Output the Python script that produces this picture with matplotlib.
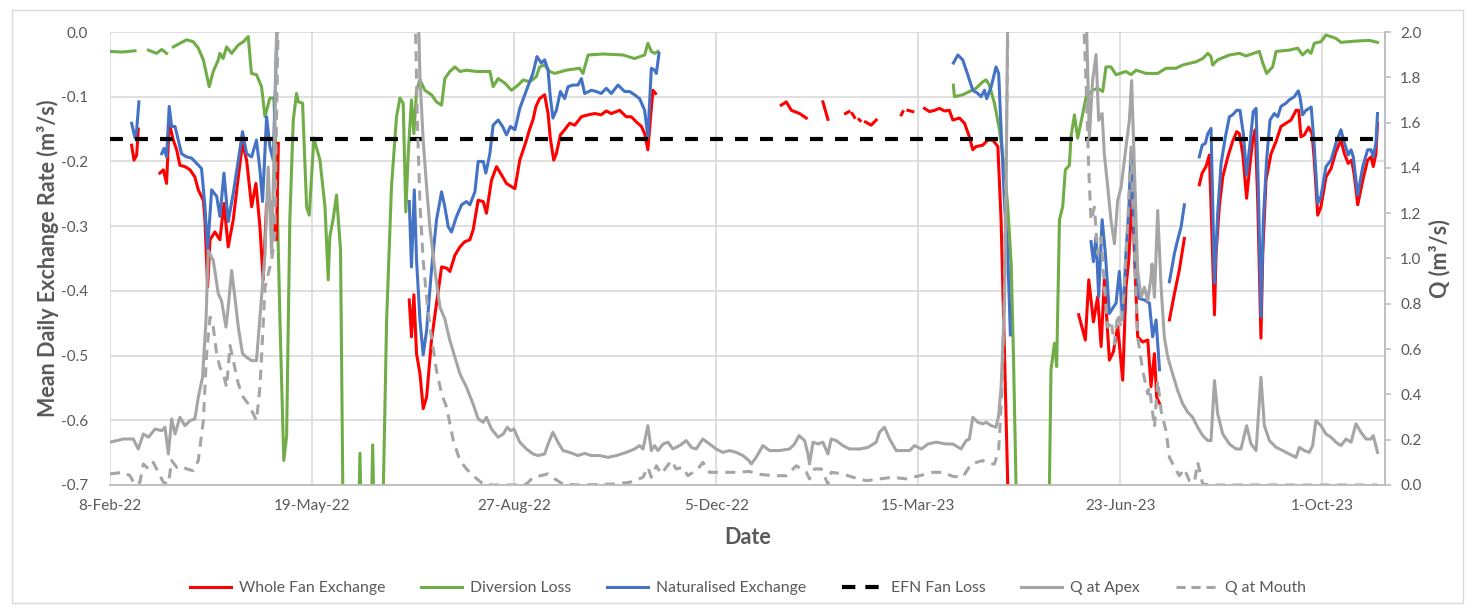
"""
Exchange rates across the fan with discharge at apex and mouth
"""
import numpy as np
import pandas as pd
import matplotlib
matplotlib.use('Agg')
import matplotlib.pyplot as plt
from matplotlib.lines import Line2D
from matplotlib.patches import Rectangle
from matplotlib.ticker import FuncFormatter, MultipleLocator

plt.rcParams['font.family'] = ['Lato', 'DejaVu Sans']

START = pd.Timestamp('2022-02-08')
N = np.nan

# day offsets from 8-Feb-22, NaN marks a gap in the record
red_day = [10.7, 11.9, 13.2, 14.0, N,
           24.7, 26.4, 28.0, 29.3, 31.3, 33.0, 34.6, 37.1, 39.6, 42.0, 43.7, 46.2, 47.0, 48.3, 49.5,
           51.9, 54.4, 56.4, 58.5, 61.0, 63.5, 65.6, 67.6, 70.1, 72.2, 74.2, 75.8, 77.5, 79.1, 80.8,
           82.4, 83.3, N,
           148.1, 149.2, 150.4, 151.7, 153.4, 155.0, 156.7, 159.1, 161.6, 164.1, 166.6, 168.2, 170.7,
           173.2, 175.6, 178.1, 179.7, 182.2, 184.7, 186.3, 188.8, 191.3, 193.8, 196.2, 198.7, 200.4,
           202.8, 206.1, 207.7, 209.4, 210.8, 212.6, 215.1, 216.8, 217.9, 219.6, 220.9, 222.9, 225.0,
           227.5, 230.0, 233.3, 236.6, 239.9, 243.1, 245.6, 248.1, 252.2, 255.5, 258.0, 260.5, 263.0,
           264.6, 266.2, 267.4, 268.7, 270.0, N,
           332.2, 334.7, 337.2, 341.3, 344.6, N, 352.8, 355.3, N, 364.0, 365.7, N, 367.3, 368.5, N,
           370.7, 371.3, N, 373.9, 376.7, 379.2, N, 391.6, 392.4, N, 394.9, 397.3, N,
           403.1, 405.6, 408.1, 410.5, 413.0, 415.4, 417.1, 420.4, 422.9, 425.3, 427.0, 428.6, 431.9,
           434.4, 436.9, 439.4, 441.0, 442.7, 444.3, 445.0, N,
           479.4, 482.7, 484.4, 486.7, 488.8, 490.5, 492.1, 494.6, 496.6, 498.7, 501.2, 502.8, 504.2,
           505.8, 507.0, 508.6, 511.1, 513.6, 515.2, 516.9, 518.0, 519.4, N,
           524.3, 526.8, 529.2, 531.7, N,
           539.1, 540.5, 542.4, 544.1, 544.9, 546.6, 547.4, 549.0, 550.7, 553.2, 555.6, 557.6, 558.9,
           560.6, 562.5, 563.9, 565.5, 566.8, 568.0, 569.6, 570.5, 572.1, 574.6, 577.1, 579.5, 582.0,
           584.5, 587.0, 588.3, 589.4, 591.1, 593.2, 594.9, 596.0, 597.7, 599.3, 601.8, 604.3, 606.7,
           609.2, 610.9, 612.8, 614.5, 615.8, 617.5, 620.0, 622.4, 624.1, 625.2, 626.5, 627.3]
red_val = [-0.175, -0.198, -0.19, -0.15, N,
           -0.218, -0.213, -0.234, -0.140, -0.167, -0.182, -0.206, -0.208, -0.213, -0.224, -0.244, -0.26, -0.29, -0.394, -0.321,
           -0.309, -0.321, -0.265, -0.332, -0.29, -0.224, -0.172, -0.198, -0.27, -0.234, -0.301, -0.383, -0.265, -0.26, -0.296,
           -0.321, -0.172, N,
           -0.414, -0.471, -0.406, -0.497, -0.528, -0.582, -0.564, -0.476, -0.419, -0.363, -0.365, -0.370, -0.345,
           -0.332, -0.324, -0.321, -0.306, -0.26, -0.262, -0.28, -0.229, -0.208, -0.221, -0.234, -0.239, -0.242,
           -0.198, -0.167, -0.150, -0.135, -0.115, -0.103, -0.097, -0.126, -0.164, -0.198, -0.188, -0.159, -0.151,
           -0.141, -0.144, -0.131, -0.128, -0.126, -0.128, -0.122, -0.126, -0.121, -0.131, -0.131, -0.139, -0.146,
           -0.157, -0.182, -0.136, -0.090, -0.095, N,
           -0.113, -0.108, -0.121, -0.126, -0.133, N, -0.108, -0.135, N, -0.126, -0.123, N, -0.126, -0.132, N,
           -0.135, -0.137, N, -0.139, -0.144, -0.136, N, -0.128, -0.123, N, -0.121, -0.123, N,
           -0.118, -0.123, -0.121, -0.118, -0.122, -0.121, -0.136, -0.133, -0.141, -0.162, -0.182, -0.177, -0.175,
           -0.167, -0.167, -0.177, -0.29, -0.497, -0.70, -0.80, N,
           -0.437, -0.476, -0.383, -0.448, -0.409, -0.486, -0.383, -0.507, -0.494, -0.455, -0.538, -0.394, -0.352,
           -0.252, -0.342, -0.471, -0.479, -0.476, -0.548, -0.497, -0.564, -0.574, N,
           -0.445, -0.404, -0.368, -0.319, N,
           -0.236, -0.218, -0.208, -0.190, -0.27, -0.437, -0.342, -0.27, -0.224, -0.193, -0.169, -0.154, -0.157,
           -0.188, -0.257, -0.213, -0.167, -0.151, -0.26, -0.473, -0.342, -0.229, -0.188, -0.169, -0.146, -0.141,
           -0.136, -0.121, -0.121, -0.162, -0.159, -0.147, -0.157, -0.198, -0.283, -0.27, -0.224, -0.211, -0.185,
           -0.167, -0.188, -0.203, -0.198, -0.221, -0.267, -0.229, -0.198, -0.193, -0.208, -0.188, -0.141]

green_day = [0.0, 6.0, 12.4, N, 19.0, 23.0, 25.6, 28.0, N,
             31.3, 34.6, 37.9, 41.2, 43.7, 46.2, 49.1, 51.1, 53.6, 54.4, 56.0, 57.7, 60.2, 63.5, 66.0,
             68.4, 70.0, 72.5, 75.0, 76.7, 79.1, 81.1, 82.4, 84.1, 86.0, 87.4, 89.0, 90.7, 92.3, 93.2,
             95.3, 97.3, 98.6, 100.9, 103.9, 106.4, 108.0, 108.8, 110.5, 112.1, 114.1, 115.5,
             122.7, 123.7, 124.7, 129.0, 130.0, 131.0, 135.0, 136.9, 139.3, 141.8, 143.5, 145.1, 146.4,
             147.6, 149.2, 150.4, 151.7, 153.4, 155.8, 159.1, 161.6, 164.1, 165.7, 168.2, 170.7, 173.2,
             176.4, 181.4, 188.0, 189.6, 192.1, 195.4, 198.7, 202.0, 204.5, 207.7, 211.0, 212.6, 215.1,
             217.6, 220.1, 225.8, 232.4, 234.1, 236.6, 244.0, 253.9, 259.6, 264.6, 266.2, 267.9, 269.5,
             271.2, N,
             417.4, 417.9, 422.0, 425.3, 428.6, 431.9, 433.6, 435.2, 437.7, 440.2, 442.7, 444.3, 446.0,
             447.1, 448.4, 449.5, 464.5, 465.7, 467.4, 468.5, 469.9, 471.5, 472.8, 474.8, 475.6, 477.3,
             478.9, 481.1, 483.1, 486.3, 488.8, 491.3, 492.9, 495.4, 497.9, 502.8, 505.3, 507.8, 512.7,
             518.5, 522.6, 527.6, 530.9, 537.5, 540.8, 543.3, 544.9, 545.7, 548.2, 554.0, 558.9, 562.2,
             568.8, 570.5, 572.4, 575.4, 577.1, 583.6, 587.8, 590.2, 592.7, 594.4, 596.0, 599.3, 601.8,
             606.7, 609.2, 616.6, 623.2, 627.3]
green_val = [-0.030, -0.031, -0.029, N, -0.028, -0.033, -0.027, -0.033, N,
             -0.023, -0.0175, -0.012, -0.015, -0.025, -0.043, -0.0845, -0.061, -0.043, -0.033, -0.041, -0.023, -0.033, -0.020, -0.015,
             -0.007, -0.064, -0.066, -0.0845, -0.131, -0.102, -0.102, -0.213, -0.445, -0.662, -0.625, -0.29, -0.136, -0.095, -0.108,
             -0.110, -0.27, -0.283, -0.164, -0.198, -0.27, -0.383, -0.316, -0.288, -0.252, -0.337, -0.80,
             -0.80, -0.651, -0.80, -0.80, -0.638, -0.80, -0.75, -0.445, -0.239, -0.131, -0.102, -0.110, -0.278,
             -0.188, -0.105, -0.157, -0.090, -0.074, -0.090, -0.097, -0.108, -0.113, -0.072, -0.061, -0.054, -0.061,
             -0.059, -0.061, -0.061, -0.0845, -0.072, -0.079, -0.090, -0.082, -0.074, -0.077, -0.069, -0.054, -0.051,
             -0.061, -0.064, -0.059, -0.056, -0.064, -0.0355, -0.034, -0.0355, -0.041, -0.0355, -0.0175, -0.030, -0.033,
             -0.030, N,
             -0.082, -0.100, -0.097, -0.092, -0.087, -0.077, -0.074, -0.082, -0.110, -0.151, -0.213, -0.27, -0.358,
             -0.497, -0.70, -0.80, -0.80, -0.522, -0.481, -0.517, -0.29, -0.27, -0.213, -0.206, -0.162, -0.128,
             -0.164, -0.131, -0.100, -0.090, -0.087, -0.092, -0.054, -0.054, -0.066, -0.061, -0.066, -0.059, -0.064,
             -0.064, -0.056, -0.056, -0.051, -0.046, -0.041, -0.033, -0.038, -0.051, -0.043, -0.0355, -0.033, -0.037,
             -0.030, -0.048, -0.064, -0.054, -0.030, -0.028, -0.025, -0.0355, -0.028, -0.033, -0.0175, -0.015, -0.0046,
             -0.0098, -0.016, -0.014, -0.013, -0.016]

blue_day = [10.7, 12.4, 13.2, 14.3, N,
            25.6, 26.7, 28.0, 29.3, 30.5, 32.2, 33.8, 35.4, 37.9, 40.4, 42.9, 45.3, 47.0, 48.3, 50.3,
            52.8, 54.4, 56.4, 58.5, 61.0, 63.5, 65.6, 67.6, 70.1, 72.5, 74.2, 75.5, 77.5, 79.1, 80.8,
            82.4, 83.2, N,
            148.1, 149.2, 150.6, 151.7, 153.4, 155.0, 156.7, 159.1, 161.6, 164.1, 165.7, 167.4, 169.0,
            171.5, 174.0, 176.4, 178.1, 180.6, 182.2, 184.7, 186.0, 188.0, 189.6, 192.1, 194.3, 196.2,
            198.2, 200.4, 202.8, 206.1, 207.7, 209.3, 211.3, 213.5, 215.1, 216.8, 217.9, 219.2, 220.9,
            222.9, 225.0, 226.7, 229.1, 231.6, 233.3, 234.9, 238.2, 240.7, 243.1, 245.6, 248.1, 251.4,
            254.7, 257.2, 259.6, 262.1, 264.6, 266.2, 267.9, 269.5, 270.4, 271.7, N,
            417.4, 419.6, 422.0, 424.5, 427.0, 429.5, 431.1, 432.8, 433.9, 436.1, 438.5, 439.8, 441.0,
            442.7, 444.3, 445.6, N,
            485.5, 486.7, 488.0, 489.3, 491.0, 492.6, 494.6, 496.2, 497.9, 499.5, 501.2, 502.8, 504.2,
            505.3, 506.1, 507.8, 509.4, 511.9, 514.4, 516.0, 517.7, 519.4, N,
            524.3, 526.8, 528.4, 530.1, 531.7, N,
            539.1, 540.5, 542.1, 543.3, 544.9, 546.6, 548.2, 549.9, 552.0, 554.0, 555.6, 557.6, 559.2,
            560.9, 562.5, 564.2, 565.8, 567.2, 568.3, 569.6, 570.8, 572.4, 574.1, 576.2, 577.9, 579.5,
            582.0, 583.6, 586.1, 588.1, 588.9, 590.2, 591.9, 594.5, 596.0, 597.7, 599.3, 601.8, 604.3,
            606.7, 609.2, 610.5, 612.8, 614.2, 615.3, 617.5, 620.0, 622.4, 624.1, 625.2, 626.5, 627.3]
blue_val = [-0.141, -0.164, -0.151, -0.108, N,
            -0.188, -0.180, -0.193, -0.115, -0.146, -0.146, -0.167, -0.188, -0.193, -0.195, -0.203, -0.211, -0.27, -0.337, -0.244,
            -0.254, -0.285, -0.218, -0.293, -0.249, -0.198, -0.154, -0.188, -0.193, -0.167, -0.213, -0.262, -0.131, -0.177, -0.198,
            -0.02, 0.05, N,
            -0.262, -0.363, -0.244, -0.352, -0.445, -0.499, -0.461, -0.368, -0.29, -0.247, -0.27, -0.301, -0.309,
            -0.285, -0.267, -0.262, -0.267, -0.247, -0.200, -0.200, -0.218, -0.188, -0.144, -0.136, -0.146, -0.159,
            -0.146, -0.151, -0.118, -0.090, -0.077, -0.064, -0.038, -0.048, -0.043, -0.059, -0.100, -0.133, -0.121,
            -0.092, -0.103, -0.0845, -0.082, -0.082, -0.072, -0.095, -0.090, -0.092, -0.095, -0.087, -0.095, -0.082,
            -0.092, -0.092, -0.097, -0.103, -0.121, -0.162, -0.056, -0.059, -0.064, -0.033, N,
            -0.048, -0.0355, -0.043, -0.066, -0.090, -0.095, -0.100, -0.090, -0.103, -0.0845, -0.054, -0.064, -0.151,
            -0.265, -0.342, -0.468, N,
            -0.324, -0.355, -0.316, -0.409, -0.29, -0.342, -0.435, -0.427, -0.419, -0.370, -0.445, -0.342, -0.275,
            -0.185, -0.249, -0.368, -0.412, -0.414, -0.419, -0.471, -0.445, -0.522, N,
            -0.386, -0.342, -0.321, -0.301, -0.267, N,
            -0.193, -0.175, -0.172, -0.157, -0.149, -0.388, -0.280, -0.203, -0.162, -0.131, -0.128, -0.121, -0.121,
            -0.157, -0.221, -0.172, -0.123, -0.118, -0.239, -0.440, -0.29, -0.198, -0.136, -0.126, -0.131, -0.115,
            -0.110, -0.105, -0.100, -0.091, -0.100, -0.128, -0.121, -0.116, -0.177, -0.265, -0.254, -0.208, -0.198,
            -0.172, -0.151, -0.167, -0.190, -0.182, -0.193, -0.252, -0.208, -0.182, -0.182, -0.193, -0.172, -0.126]

efn_day = [0.0, 628.0]
efn_val = [-0.165, -0.165]

apex_day = [0.0, 6.6, 11.5, 14.0, 16.5, 19.0, 22.3, 25.6, 27.2, 28.9, 30.5, 32.2, 34.6, 37.1, 39.6,
            42.0, 43.7, 45.8, 47.5, 48.6, 51.1, 53.6, 55.2, 57.4, 58.5, 60.2, 61.8, 63.5, 65.6, 67.6,
            70.1, 72.5, 75.0, 76.7, 78.3, 80.0, 81.6, 82.9, N,
            152.3, 153.4, 155.0, 156.7, 158.3, 160.8, 163.3, 165.7, 168.2, 170.7, 173.2, 176.4, 179.7,
            182.2, 184.7, 186.3, 188.8, 192.1, 194.6, 196.6, 198.2, 199.9, 202.8, 206.1, 209.4, 211.8,
            215.1, 216.8, 219.2, 221.7, 224.2, 227.5, 231.6, 234.9, 238.2, 242.3, 246.5, 250.6, 255.5,
            259.6, 262.1, 263.8, 266.2, 267.9, 269.5, 271.2, 273.7, 276.1, 278.6, 281.9, 285.2, 287.7,
            290.1, 293.4, 296.7, 300.0, 303.3, 306.6, 309.9, 313.2, 316.0, 317.4, 319.8, 323.1, 326.4,
            331.4, 336.3, 338.8, 341.0, 343.8, 345.4, 346.2, 347.9, 350.4, 352.8, 355.3, 356.9, 359.4,
            362.7, 366.0, 371.0, 375.1, 379.2, 380.8, 383.3, 385.8, 389.1, 392.4, 395.7, 398.2, 401.5,
            404.8, 408.9, 413.8, 417.1, 421.2, 423.7, 425.3, 427.0, 429.5, 431.9, 433.6, 436.1, 438.5,
            439.8, 441.0, 442.7, 443.5, 444.4, N,
            482.8, 484.7, 486.3, 488.0, 489.3, 491.0, 492.1, 493.8, 495.4, 497.1, 498.7, 500.4, 502.0,
            503.2, 504.5, 505.6, 507.0, 508.6, 510.3, 511.9, 513.6, 515.2, 515.7, 516.9, 518.5, 520.2,
            521.8, 523.5, 525.9, 528.4, 530.9, 533.4, 535.8, 538.3, 540.8, 543.3, 544.9, 546.6, 548.2,
            550.7, 554.0, 557.3, 559.7, 562.5, 564.7, 567.2, 569.6, 571.3, 573.8, 577.1, 580.4, 583.6,
            587.0, 588.6, 591.1, 593.5, 595.2, 596.8, 599.3, 601.8, 604.3, 606.7, 609.2, 611.7, 614.2,
            616.6, 619.1, 621.6, 624.1, 625.2, 627.3]
apex_val = [0.189, 0.203, 0.203, 0.159, 0.225, 0.211, 0.247, 0.240, 0.255, 0.137, 0.292, 0.225, 0.299, 0.262, 0.284,
            0.292, 0.387, 0.476, 0.726, 1.035, 0.991, 0.844, 0.814, 0.697, 0.785, 0.947, 0.829, 0.697, 0.579, 0.564,
            0.549, 0.549, 0.829, 1.021, 1.404, 1.021, 1.61, 2.2, N,
            2.2, 1.80, 1.52, 1.315, 1.138, 0.947, 0.785, 0.733, 0.638, 0.564, 0.490, 0.432, 0.358,
            0.292, 0.277, 0.299, 0.247, 0.211, 0.225, 0.255, 0.240, 0.247, 0.189, 0.159, 0.137, 0.130,
            0.137, 0.181, 0.233, 0.189, 0.152, 0.144, 0.130, 0.140, 0.130, 0.130, 0.122, 0.130, 0.144,
            0.159, 0.174, 0.159, 0.262, 0.152, 0.174, 0.152, 0.181, 0.189, 0.159, 0.174, 0.196, 0.166,
            0.159, 0.203, 0.181, 0.159, 0.144, 0.152, 0.144, 0.130, 0.110, 0.093, 0.122, 0.174, 0.152,
            0.152, 0.159, 0.181, 0.218, 0.196, 0.137, 0.093, 0.189, 0.181, 0.189, 0.137, 0.203, 0.196,
            0.174, 0.159, 0.159, 0.166, 0.189, 0.233, 0.255, 0.203, 0.152, 0.152, 0.152, 0.174, 0.159,
            0.181, 0.189, 0.181, 0.181, 0.159, 0.196, 0.203, 0.299, 0.277, 0.270, 0.277, 0.262, 0.255,
            0.306, 0.432, 0.800, 1.315, 2.2, N,
            2.2, 1.536, 1.786, 1.90, 1.61, 1.64, 1.46, 1.315, 1.168, 1.065, 1.256, 1.315, 1.433,
            1.521, 1.61, 1.786, 1.389, 0.947, 0.829, 0.873, 0.814, 0.917, 0.976, 0.829, 1.212, 0.873,
            0.652, 0.564, 0.490, 0.417, 0.358, 0.321, 0.299, 0.255, 0.218, 0.196, 0.196, 0.461, 0.314,
            0.225, 0.181, 0.159, 0.159, 0.262, 0.181, 0.152, 0.476, 0.262, 0.196, 0.166, 0.152, 0.137,
            0.122, 0.166, 0.152, 0.144, 0.174, 0.284, 0.262, 0.225, 0.211, 0.189, 0.174, 0.203, 0.189,
            0.270, 0.233, 0.203, 0.203, 0.218, 0.144]

mouth_day = [0.0, 6.6, 9.9, 12.4, 14.8, 16.5, 19.0, 21.4, 23.9, 26.4, 28.9, 30.5, 33.0, 35.4, 37.9,
             41.2, 43.7, 46.2, 47.8, 49.5, 51.1, 52.8, 54.4, 56.1, 57.7, 59.4, 61.0, 63.5, 66.0, 68.4,
             70.9, 72.5, 74.2, 75.5, 76.7, 78.3, 80.0, 81.6, 82.4, 83.5, N,
             150.8, 152.1, 153.4, 155.0, 157.0, 159.1, 161.6, 164.1, 166.6, 169.9, 173.2, 176.4, 179.7,
             184.7, 189.6, 199.5, 206.1, 209.4, 212.6, 216.8, 220.1, 224.2, 232.4, 248.9, 257.2, 263.8,
             266.2, 267.9, 270.4, 272.8, 275.3, 277.8, 280.2, 283.5, 286.0, 291.0, 293.4, 296.7, 303.3,
             309.9, 316.5, 319.8, 328.1, 334.7, 339.6, 344.6, 346.2, 348.7, 352.0, 355.3, 356.9, 362.7,
             367.7, 374.3, 380.9, 387.4, 394.0, 400.6, 407.2, 412.2, 417.1, 422.0, 426.2, 431.9, 435.2,
             437.7, 439.8, 441.5, 442.7, 444.6, N,
             481.3, 483.1, 484.4, 485.5, 487.2, 488.8, 490.5, 492.1, 493.8, 495.4, 497.1, 498.7, 500.4,
             502.0, 503.7, 505.3, 507.0, 508.6, 511.1, 513.6, 514.4, 516.9, 518.5, 520.2, 522.6, 524.3,
             526.8, 529.2, 531.7, 534.2, 536.7, 538.3, 540.8, 545.7, 627.3]
mouth_val = [0.049, 0.056, 0.041, 0.0, 0.012, 0.093, 0.071, 0.100, 0.056, 0.012, 0.004, 0.108, 0.078, 0.085, 0.071,
             0.063, 0.108, 0.284, 0.579, 0.741, 0.697, 0.579, 0.520, 0.490, 0.432, 0.616, 0.549, 0.446, 0.387, 0.358,
             0.314, 0.284, 0.432, 0.652, 0.873, 0.932, 0.991, 1.109, 1.61, 2.2, N,
             2.2, 1.61, 1.24, 0.991, 0.800, 0.652, 0.505, 0.402, 0.343, 0.196, 0.108, 0.071, 0.041,
             0.004, 0.0, 0.0, 0.004, 0.034, 0.040, 0.049, 0.027, 0.004, 0.0, 0.004, 0.012, 0.034,
             0.078, 0.034, 0.085, 0.049, 0.078, 0.108, 0.071, 0.078, 0.041, 0.071, 0.100, 0.056, 0.056,
             0.056, 0.060, 0.049, 0.041, 0.041, 0.085, 0.056, 0.027, 0.071, 0.071, 0.004, 0.056, 0.049,
             0.034, 0.019, 0.027, 0.034, 0.027, 0.041, 0.056, 0.056, 0.038, 0.034, 0.093, 0.108, 0.093,
             0.093, 0.152, 0.432, 0.873, 2.2, N,
             2.2, 1.757, 1.389, 1.168, 1.227, 1.021, 1.094, 0.873, 0.697, 0.726, 0.623, 0.756, 0.697,
             0.873, 1.168, 1.492, 1.021, 0.652, 0.505, 0.402, 0.432, 0.255, 0.461, 0.328, 0.240, 0.122,
             0.078, 0.041, 0.071, 0.019, 0.012, 0.100, 0.004, 0.0, 0.0]

x_ticks_every = 100  # days between date labels
x_end_days = 631

RED = '#ff0000'
GREEN = '#70ad47'
BLUE = '#4472c4'
GREY = '#a5a5a5'
TXT = '#595959'


def to_dates(days):
    return START + pd.to_timedelta(np.array(days, dtype=float), unit='D')


def date_label(x, pos=None):
    d = matplotlib.dates.num2date(x)
    return f"{d.day}-{d.strftime('%b-%y')}"


fig = plt.figure(figsize=(14.75, 6.13), dpi=100)
fig.patches.append(Rectangle((12 / 1475, 10 / 613), 1451 / 1475, 593 / 613, transform=fig.transFigure,
                             fill=False, edgecolor='#d9d9d9', linewidth=1.0))
ax = fig.add_axes([110 / 1475, 1 - 485 / 613, 1275 / 1475, 453 / 613])
ax2 = ax.twinx()

lw = 2.2
ax.plot(to_dates(red_day), red_val, color=RED, lw=lw, zorder=3)
ax.plot(to_dates(green_day), green_val, color=GREEN, lw=lw, zorder=2)
ax.plot(to_dates(blue_day), blue_val, color=BLUE, lw=lw, zorder=4)
ax.plot(to_dates(efn_day), efn_val, color='black', lw=3.0, dashes=(3.1, 2.9),
        dash_capstyle='butt', zorder=5)
ax2.plot(to_dates(apex_day), apex_val, color=GREY, lw=lw)
ax2.plot(to_dates(mouth_day), mouth_val, color=GREY, lw=lw, dashes=(3.3, 2.4), dash_capstyle='butt')

ax.set_ylim(-0.7, 0.0)
ax2.set_ylim(0.0, 2.0)
ax.set_xlim(START, START + pd.Timedelta(days=x_end_days))
ax.set_xticks(to_dates(np.arange(0, x_end_days, x_ticks_every)))
ax.xaxis.set_major_formatter(FuncFormatter(date_label))
ax.yaxis.set_major_locator(MultipleLocator(0.1))
ax.yaxis.set_major_formatter(FuncFormatter(lambda v, p: f'{v:.1f}'))
ax2.yaxis.set_major_locator(MultipleLocator(0.2))
ax2.yaxis.set_major_formatter(FuncFormatter(lambda v, p: f'{v:.1f}'))

ax.grid(True, color='#d9d9d9', lw=1.2)
ax.set_axisbelow(True)
for a in (ax, ax2):
    for s in ('top', 'left'):
        a.spines[s].set_visible(False)
    a.spines['bottom'].set_color('#bfbfbf')
    a.spines['right'].set_color('#bfbfbf')
    a.spines['bottom'].set_linewidth(1.2)
    a.spines['right'].set_linewidth(1.2)

ax.tick_params(axis='y', length=0, pad=16, labelsize=11, labelcolor=TXT)
ax.tick_params(axis='x', length=0, pad=10, labelsize=11, labelcolor=TXT)
ax2.tick_params(axis='y', length=4, width=1.2, color='#bfbfbf', pad=7, labelsize=11, labelcolor=TXT)

ax.set_ylabel('Mean Daily Exchange Rate (m³/s)', fontsize=15.5, fontweight='bold', color=TXT, va='center')
ax.yaxis.set_label_coords(-0.049, 0.5)
ax2.set_ylabel('Q (m³/s)', fontsize=15.5, fontweight='bold', color=TXT, va='center', rotation=90)
ax2.yaxis.set_label_coords(1.043, 0.5)
ax.set_xlabel('Date', fontsize=15.5, fontweight='bold', color=TXT, va='center')
ax.xaxis.set_label_coords(0.5, -0.115)

handles = [
    Line2D([], [], color=RED, lw=lw),
    Line2D([], [], color=GREEN, lw=lw),
    Line2D([], [], color=BLUE, lw=lw),
    Line2D([], [], color='black', lw=3.0, dashes=(3.2, 2.4), dash_capstyle='butt'),
    Line2D([], [], color=GREY, lw=lw),
    Line2D([], [], color=GREY, lw=lw, dashes=(3.0, 1.9), dash_capstyle='butt'),
]
labels = ['Whole Fan Exchange', 'Diversion Loss', 'Naturalised Exchange', 'EFN Fan Loss', 'Q at Apex', 'Q at Mouth']
fig.legend(handles, labels, loc='center', bbox_to_anchor=(0.507, 1 - 588 / 613), ncol=6, frameon=False,
           fontsize=11.3, labelcolor=TXT, handlelength=2.6, handletextpad=0.5, columnspacing=2.3)

fig.savefig('out.png', dpi=100)
